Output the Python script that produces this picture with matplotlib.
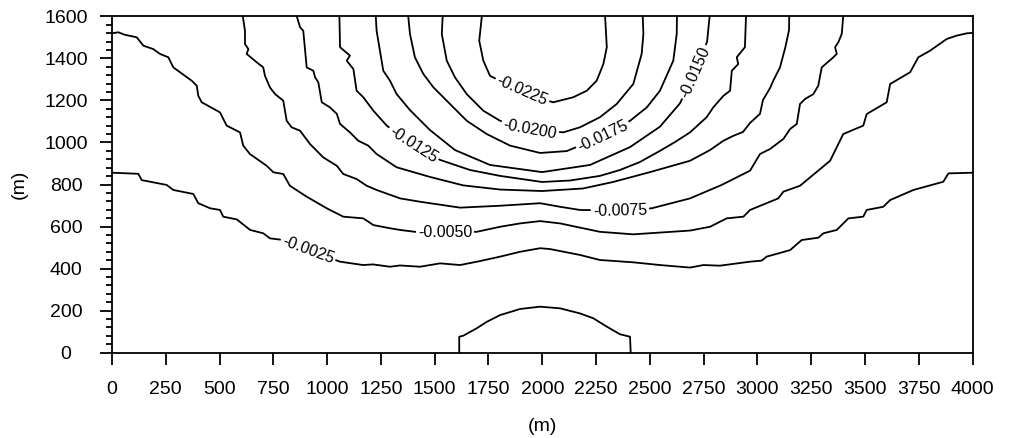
import numpy as np
import matplotlib
matplotlib.use('Agg')
import matplotlib.pyplot as plt
from matplotlib.ticker import MultipleLocator

plt.rcParams['font.family'] = ['Liberation Sans', 'DejaVu Sans']

# contour lines of the computed field, coordinates in metres
c0025_x = [0, 122, 138, 254, 285, 378, 401, 456, 502, 517, 580, 642, 703, 734, 781, 911, 1060, 1167, 1213, 1292,
           1339, 1432, 1525, 1618, 1711, 1804, 1897, 1990, 2036, 2175, 2268, 2422, 2547, 2687, 2749, 2826, 2966,
           3020, 3043, 3152, 3206, 3283, 3307, 3369, 3423, 3492, 3508, 3585, 3617, 3725, 3864, 3888, 4000]
c0025_y = [856, 851, 821, 798, 774, 755, 711, 687, 679, 647, 634, 584, 568, 544, 538, 488, 433, 417, 420, 409,
           415, 409, 425, 417, 436, 457, 480, 497, 493, 465, 441, 430, 417, 405, 417, 414, 433,
           438, 457, 488, 536, 547, 568, 584, 639, 647, 679, 694, 726, 774, 813, 853, 856]

c0050_x = [0, 29, 60, 115, 146, 192, 223, 262, 285, 370, 394, 401, 417, 502, 533, 595, 610, 641, 719, 750, 796,
           827, 905, 998, 1075, 1168, 1215, 1292, 1339, 1408, 1548, 1695, 1804, 1897, 1990, 2083, 2175, 2268,
           2423, 2687, 2780, 2857, 2935, 2966, 3059, 3097, 3121, 3198, 3245, 3283, 3338, 3399, 3492, 3508,
           3601, 3617, 3710, 3748, 3802, 3880, 3926, 3973, 4000]
c0050_y = [1519, 1524, 1512, 1500, 1460, 1444, 1421, 1405, 1357, 1294, 1270, 1222, 1191, 1143, 1080, 1048, 985,
           945, 889, 858, 850, 794, 742, 687, 647, 639, 607, 592, 584, 575, 574, 575, 599, 615, 626, 615, 595,
           575, 563, 581, 599, 639, 647, 679, 718, 734, 766, 794, 834, 866, 913, 1040, 1080, 1135, 1191, 1278,
           1334, 1405, 1436, 1492, 1508, 1519, 1521]

c0075_x = [608, 618, 618, 634, 626, 673, 703, 711, 734, 758, 796, 812, 835, 874, 920, 982, 1045, 1075, 1137,
           1184, 1230, 1339, 1432, 1618, 1804, 1990, 2083, 2175, 2361, 2509, 2687, 2834, 2904, 2966, 3012,
           3059, 3121, 3152, 3183, 3198, 3222, 3260, 3283, 3299, 3353, 3369, 3361, 3376, 3392, 3399]
c0075_y = [1600, 1532, 1468, 1444, 1421, 1381, 1357, 1317, 1262, 1230, 1199, 1103, 1072, 1056, 993, 929, 889,
           850, 826, 794, 774, 734, 718, 690, 699, 711, 694, 679, 676, 687, 734, 798, 834, 866, 945,
           969, 1017, 1064, 1088, 1183, 1207, 1230, 1270, 1357, 1405, 1421, 1453, 1476, 1516, 1600]

c0100_x = [859, 874, 889, 905, 936, 944, 959, 975, 1013, 1045, 1060, 1106, 1145, 1191, 1230, 1323, 1478, 1632,
           1804, 1999, 2189, 2329, 2501, 2687, 2780, 2840, 2887, 2933, 2966, 3012, 3026, 3059, 3073, 3105,
           3129, 3147, 3148]
c0100_y = [1600, 1548, 1531, 1357, 1341, 1310, 1286, 1191, 1167, 1136, 1088, 1048, 1008, 985, 945, 882, 836, 796,
           776, 769, 781, 812, 859, 913, 964, 1007, 1031, 1050, 1093, 1136, 1202, 1259, 1292, 1357,
           1449, 1534, 1600]

c0125_x = [1057, 1060, 1106, 1091, 1122, 1137, 1168, 1215, 1277, 1399, 1525, 1664, 1804, 1999, 2129, 2268, 2361,
           2454, 2547, 2617, 2687, 2764, 2795, 2842, 2873, 2881, 2911, 2904, 2942, 2947]
c0125_y = [1600, 1453, 1413, 1389, 1349, 1246, 1215, 1151, 1080, 988, 917, 869, 841, 812, 819, 841, 869,
           907, 960, 1002, 1048, 1120, 1167, 1222, 1246, 1341, 1373, 1405, 1453, 1600]

c0150_x = [1226, 1230, 1261, 1292, 1323, 1385, 1478, 1594, 1757, 1999, 2222, 2408, 2547, 2640, 2710, 2766, 2778]
c0150_y = [1600, 1531, 1341, 1294, 1230, 1154, 1059, 964, 893, 859, 893, 978, 1075, 1186, 1334, 1479, 1600]

c0175_x = [1377, 1385, 1408, 1447, 1494, 1571, 1649, 1742, 1850, 1990, 2114, 2282, 2408, 2486, 2547, 2609, 2625, 2626]
c0175_y = [1600, 1516, 1405, 1326, 1262, 1183, 1103, 1040, 985, 950, 959, 1031, 1103, 1167, 1246, 1389, 1516, 1600]

c0200_x = [1537, 1533, 1556, 1594, 1649, 1726, 1804, 1943, 2098, 2175, 2268, 2346, 2423, 2462, 2470, 2467]
c0200_y = [1600, 1516, 1389, 1310, 1230, 1151, 1103, 1064, 1048, 1072, 1120, 1183, 1278, 1421, 1516, 1600]

c0225_x = [1719, 1707, 1726, 1757, 1832, 1906, 1980, 2051, 2144, 2207, 2253, 2284, 2300, 2292]
c0225_y = [1600, 1484, 1389, 1317, 1278, 1245, 1212, 1191, 1215, 1246, 1294, 1373, 1453, 1600]

# closed patch above the bottom boundary
bump_x = [1614, 1614, 1633, 1695, 1742, 1804, 1897, 1990, 2083, 2175, 2237, 2300, 2361, 2408, 2411]
bump_y = [0, 76, 81, 116, 147, 179, 208, 219, 211, 187, 164, 124, 88, 76, 0]

lines = [(c0025_x, c0025_y), (c0050_x, c0050_y), (c0075_x, c0075_y), (c0100_x, c0100_y),
         (c0125_x, c0125_y), (c0150_x, c0150_y), (c0175_x, c0175_y), (c0200_x, c0200_y),
         (c0225_x, c0225_y), (bump_x, bump_y)]

# inline labels: text, which line, point on the line
label_text = ['-0.0025', '-0.0050', '-0.0075', '-0.0125', '-0.0150', '-0.0175', '-0.0200', '-0.0225']
label_line = [0, 1, 2, 4, 5, 6, 7, 8]
label_x = [911, 1548, 2361, 1399, 2710, 2282, 1943, 1906]
label_y = [488, 574, 676, 988, 1334, 1031, 1064, 1245]

fig = plt.figure(figsize=(10.1, 4.38), dpi=100)
ax = fig.add_axes([0.1109, 0.1947, 0.852, 0.7681])
ax.set_xlim(0, 4000)
ax.set_ylim(0, 1600)

for xs, ys in lines:
    ax.plot(xs, ys, color='black', lw=1.3, zorder=2)

# rotate each label along its line, measured in screen space
for text, k, lx, ly in zip(label_text, label_line, label_x, label_y):
    xs, ys = lines[k]
    pts = ax.transData.transform(np.column_stack([xs, ys]))
    p = ax.transData.transform((lx, ly))
    i = int(np.argmin(np.hypot(pts[:, 0] - p[0], pts[:, 1] - p[1])))
    a = pts[max(i - 1, 0)]
    b = pts[min(i + 1, len(pts) - 1)]
    ang = np.degrees(np.arctan2(b[1] - a[1], b[0] - a[0]))
    if ang > 90:
        ang -= 180
    elif ang < -90:
        ang += 180
    ax.text(lx, ly, text, rotation=ang, rotation_mode='anchor', ha='center', va='center',
            fontsize=11.5, zorder=3, bbox=dict(fc='white', ec='none', pad=1.5))

ax.set_xticks(np.arange(0, 4001, 250))
ax.set_yticks(np.arange(0, 1601, 200))
ax.yaxis.set_minor_locator(MultipleLocator(40))
ax.tick_params(which='both', direction='out', width=1.3, colors='black', labelsize=14)
ax.tick_params(which='major', length=8.6)
ax.tick_params(which='minor', length=4.3)
ax.tick_params(axis='x', pad=12)
ax.tick_params(axis='y', pad=24.5)
for lbl in ax.get_yticklabels():
    lbl.set_horizontalalignment('center')

for s in ax.spines.values():
    s.set_linewidth(1.3)

ax.set_xlabel('(m)', fontsize=14)
ax.xaxis.set_label_coords(0.5, -0.195)
ax.set_ylabel('(m)', fontsize=14)
ax.yaxis.set_label_coords(-0.0976, 0.5)

fig.savefig('out.png', dpi=100)
